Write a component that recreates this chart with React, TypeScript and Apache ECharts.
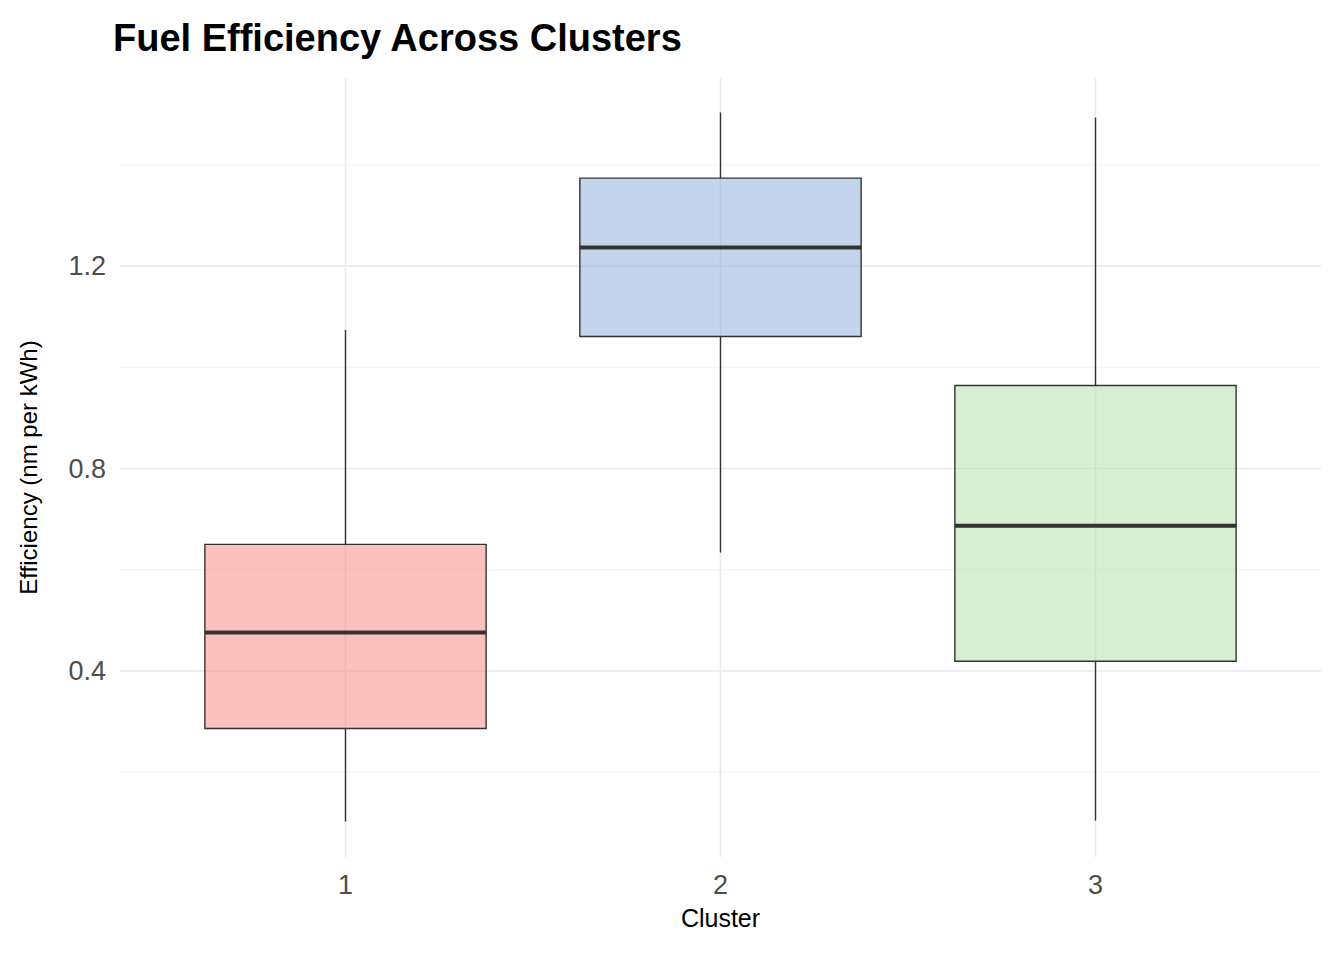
import { useEffect, useRef } from "react";
import * as echarts from "echarts";

const clusters = ["1", "2", "3"];
// [min, q1, median, q3, max]
const boxValues = [
  [0.102, 0.286, 0.476, 0.65, 1.074],
  [0.634, 1.061, 1.237, 1.374, 1.504],
  [0.104, 0.419, 0.687, 0.964, 1.494],
];
const fills = ["rgba(248,118,109,0.45)", "rgba(134,172,217,0.5)", "rgba(174,224,163,0.5)"];
const majorTicks = [0.4, 0.8, 1.2];
const gridValues = [0.2, 0.4, 0.6, 0.8, 1.0, 1.2, 1.4];

const App = () => {
  const ref = useRef<HTMLDivElement>(null);

  useEffect(() => {
    if (!ref.current) return;
    const chart = echarts.init(ref.current, null, { renderer: "svg" });
    chart.setOption({
      animation: false,
      title: {
        text: "Fuel Efficiency Across Clusters",
        left: 100,
        top: 6,
        textStyle: { fontFamily: "Liberation Sans", fontSize: 38, fontWeight: "bold", color: "#000" },
      },
      grid: { left: 146, right: 53, top: 70, bottom: 95 },
      xAxis: {
        type: "category",
        data: clusters,
        name: "Cluster",
        nameLocation: "middle",
        nameGap: 48,
        nameTextStyle: { fontFamily: "Liberation Sans", fontSize: 25, color: "#000" },
        axisLine: { show: false },
        axisTick: { show: false },
        splitLine: { show: false },
        axisLabel: { fontFamily: "Liberation Sans", fontSize: 27, color: "#4d4d4d", margin: 14 },
      },
      yAxis: {
        type: "value",
        min: 0.032,
        max: 1.572,
        name: "Efficiency (nm per kWh)",
        nameLocation: "middle",
        nameGap: 118,
        nameTextStyle: { fontFamily: "Liberation Sans", fontSize: 24, color: "#000" },
        axisLine: { show: false },
        axisTick: { show: false, customValues: majorTicks },
        splitLine: { show: false },
        axisLabel: {
          customValues: majorTicks,
          fontFamily: "Liberation Sans",
          fontSize: 27,
          color: "#4d4d4d",
          margin: 52,
          formatter: (v: number) => v.toFixed(1),
        },
      },
      series: [
        {
          type: "custom",
          silent: true,
          clip: false,
          z: 1,
          data: gridValues.map((v) => [v]),
          renderItem: (params: any, api: any) => {
            const cs = params.coordSys;
            const y = api.coord([0, api.value(0)])[1];
            const major = majorTicks.some((t) => Math.abs(t - api.value(0)) < 1e-6);
            return {
              type: "line",
              shape: { x1: cs.x - 38, y1: y, x2: cs.x + cs.width + 38, y2: y },
              style: { stroke: major ? "#ebebeb" : "#f3f3f3", lineWidth: major ? 1.6 : 1.1 },
            };
          },
        },
        {
          type: "custom",
          silent: true,
          clip: false,
          z: 1,
          data: clusters.map((_, i) => [i]),
          renderItem: (params: any, api: any) => {
            const cs = params.coordSys;
            const x = api.coord([api.value(0), 0])[0];
            return {
              type: "line",
              shape: { x1: x, y1: cs.y, x2: x, y2: cs.y + cs.height },
              style: { stroke: "#ebebeb", lineWidth: 1.6 },
            };
          },
        },
        {
          type: "custom",
          z: 2,
          data: boxValues.map((b, i) => [i, ...b]),
          renderItem: (params: any, api: any) => {
            const i = api.value(0);
            const [mn, q1, med, q3, mx] = [1, 2, 3, 4, 5].map((k) => api.value(k));
            const x = api.coord([i, 0])[0];
            const w = api.size([1, 0])[0] * 0.75;
            const yMin = api.coord([i, mn])[1];
            const yQ1 = api.coord([i, q1])[1];
            const yMed = api.coord([i, med])[1];
            const yQ3 = api.coord([i, q3])[1];
            const yMax = api.coord([i, mx])[1];
            const line = "#333333";
            return {
              type: "group",
              children: [
                { type: "line", shape: { x1: x, y1: yMax, x2: x, y2: yQ3 }, style: { stroke: line, lineWidth: 1.4 } },
                { type: "line", shape: { x1: x, y1: yQ1, x2: x, y2: yMin }, style: { stroke: line, lineWidth: 1.4 } },
                {
                  type: "rect",
                  shape: { x: x - w / 2, y: yQ3, width: w, height: yQ1 - yQ3 },
                  style: { fill: fills[i], stroke: line, lineWidth: 1.4 },
                },
                { type: "line", shape: { x1: x - w / 2, y1: yMed, x2: x + w / 2, y2: yMed }, style: { stroke: line, lineWidth: 4 } },
              ],
            };
          },
        },
      ],
    });
    return () => chart.dispose();
  }, []);

  return <div ref={ref} style={{ width: 1328, height: 944 }} />;
};

export default App;
